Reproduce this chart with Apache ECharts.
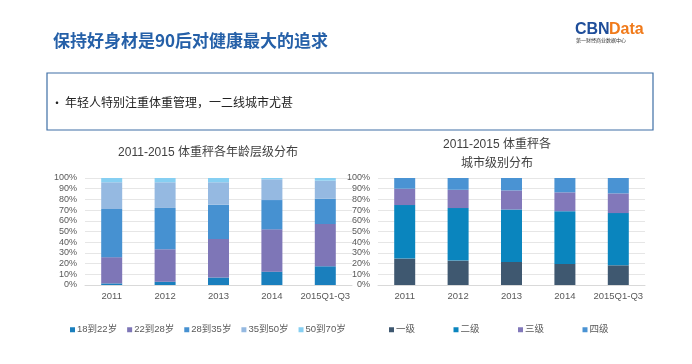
<!DOCTYPE html>
<html><head><meta charset="utf-8">
<script src="https://cdn.jsdelivr.net/npm/echarts@6/dist/echarts.min.js"></script>
<style>html,body{margin:0;padding:0;background:#fff;}#c{width:692px;height:364px;}</style>
</head><body><div id="c"></div>
<script>
const categories = ['2011','2012','2013','2014','2015Q1-Q3'];
const yTicks = [0,10,20,30,40,50,60,70,80,90,100];
// Left chart: age groups (%)
const ageNames = ['18到22岁','22到28岁','28到35岁','35到50岁','50到70岁'];
const age18_22 = [1.5, 3.0, 7.0, 12.5, 17.5];
const age22_28 = [24.5, 30.4, 36.0, 39.5, 39.5];
const age28_35 = [45.0, 38.6, 32.0, 27.4, 23.6];
const age35_50 = [25.0, 24.0, 21.0, 19.4, 16.9];
const age50_70 = [4.0, 4.0, 4.0, 1.2, 2.5];
// Right chart: city tiers (%)
const tierNames = ['一级','二级','三级','四级'];
const tier1 = [24.7, 22.8, 21.6, 19.7, 18.4];
const tier2 = [50.0, 49.1, 49.0, 49.3, 48.8];
const tier3 = [15.3, 17.1, 17.8, 17.6, 18.4];
const tier4 = [10.0, 11.0, 11.6, 13.4, 14.4];

const ageData = [age18_22, age22_28, age28_35, age35_50, age50_70];
const ageColors = ['#1a7fbd','#7e76b7','#4691d1','#95b9e1','#86cff2'];
const tierData = [tier1, tier2, tier3, tier4];
const tierColors = ['#3f5870','#0a85be','#8278ba','#4a93d3'];

const FONT = '"Liberation Sans", "Noto Sans CJK SC", sans-serif';
const chart = echarts.init(document.getElementById('c'), null, {renderer:'canvas'});

function xAx(gi){
  return {type:'category', gridIndex:gi, data:categories,
    axisTick:{show:false}, axisLine:{lineStyle:{color:'#d9d9d9'}},
    axisLabel:{color:'#595959', fontSize:9.5, fontFamily:FONT, margin:7, interval:0}};
}
function yAx(gi){
  return {type:'value', gridIndex:gi, min:yTicks[0], max:yTicks[yTicks.length-1], interval:10,
    axisLine:{show:false}, axisTick:{show:false},
    splitLine:{lineStyle:{color:'#e6e6e6'}},
    axisLabel:{color:'#595959', fontSize:9, fontFamily:FONT, margin:8, formatter:'{value}%'}};
}
const series = [];
ageNames.forEach((n,i)=>series.push({name:n, type:'bar', stack:'age', xAxisIndex:0, yAxisIndex:0,
  barWidth:21, data:ageData[i], itemStyle:{color:ageColors[i]}}));
tierNames.forEach((n,i)=>series.push({name:n, type:'bar', stack:'tier', xAxisIndex:1, yAxisIndex:1,
  barWidth:21, data:tierData[i], itemStyle:{color:tierColors[i]}}));

chart.setOption({
  animation:false,
  textStyle:{fontFamily:FONT},
  title:[
    {text:'保持好身材是90后对健康最大的追求', left:48, top:27,
      textStyle:{color:'#2560a8', fontSize:17, fontWeight:'bold', fontFamily:'"Noto Sans CJK SC", sans-serif'}},
    {text:'2011-2015 体重秤各年龄层级分布', left:203, top:142, textAlign:'center',
      textStyle:{color:'#404040', fontSize:12, fontWeight:'normal', fontFamily:FONT}},
    {text:'2011-2015 体重秤各\n城市级别分布', left:492, top:130, textAlign:'center',
      textStyle:{color:'#404040', fontSize:12, fontWeight:'normal', lineHeight:19, fontFamily:FONT}}
  ],
  legend:[
    {data:ageNames, left:65, top:320, icon:'rect', itemWidth:5, itemHeight:5, itemGap:10,
      textStyle:{color:'#595959', fontSize:9.5, fontFamily:FONT, padding:[0,0,0,-3]}},
    {data:tierNames, left:384, top:320, icon:'rect', itemWidth:5, itemHeight:5, itemGap:38.5,
      textStyle:{color:'#595959', fontSize:9.5, fontFamily:FONT, padding:[0,0,0,-3]}}
  ],
  grid:[
    {left:85, top:178, width:267, height:107},
    {left:378, top:178, width:267, height:107}
  ],
  xAxis:[xAx(0), xAx(1)],
  yAxis:[yAx(0), yAx(1)],
  series:series,
  graphic:[
    {type:'rect', shape:{x:47, y:73, width:606, height:57}, style:{fill:'none', stroke:'#3e6fa6', lineWidth:1.2}},
    {type:'text', left:51, top:97, style:{text:'•', fill:'#222', font:'12px "Noto Sans CJK SC"'}},
    {type:'text', left:65, top:96, style:{text:'年轻人特别注重体重管理，一二线城市尤甚', fill:'#222', font:'12px "Noto Sans CJK SC"'}},
    {type:'text', left:575, top:22, style:{text:'CBN', fill:'#1f4e9a', font:'bold 16px "Liberation Sans"'}},
    {type:'text', left:609, top:22, style:{text:'Data', fill:'#f07a1a', font:'bold 16px "Liberation Sans"'}},
    {type:'text', left:576, top:38, style:{text:'第一财经商业数据中心', fill:'#333', font:'5px "Noto Sans CJK SC"'}}
  ]
});
</script></body></html>
